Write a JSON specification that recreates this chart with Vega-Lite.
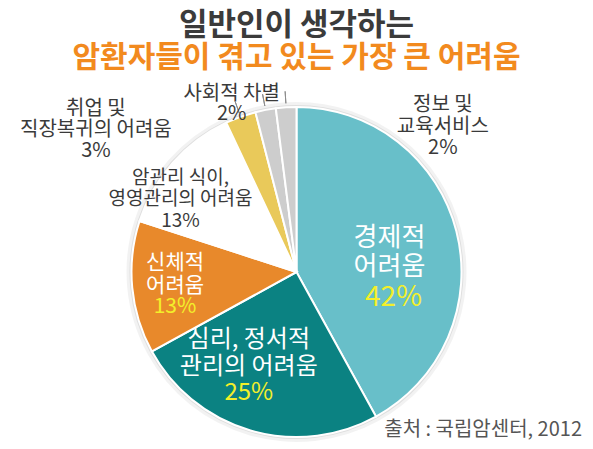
{
  "$schema": "https://vega.github.io/schema/vega-lite/v6.json",
  "width": 593,
  "height": 354,
  "autosize": {"type": "none"},
  "padding": {"top": 95, "left": 0, "right": 0, "bottom": 0},
  "background": "white",
  "config": {
    "view": {"stroke": null},
    "text": {"font": "Noto Sans CJK KR"}
  },
  "title": {
    "text": "일반인이 생각하는",
    "subtitle": "암환자들이 겪고 있는 가장 큰 어려움",
    "anchor": "middle",
    "font": "Noto Sans CJK KR",
    "fontSize": 31,
    "fontWeight": "bold",
    "color": "#3b3b3b",
    "subtitleFont": "Noto Sans CJK KR",
    "subtitleFontSize": 30,
    "subtitleFontWeight": "bold",
    "subtitleColor": "#f28a1e",
    "subtitlePadding": 1,
    "offset": 7
  },
  "layer": [
    {
      "data": {
        "values": [
          {"category": "경제적 어려움", "order": 1, "value": 42, "lines": ["경제적", "어려움"], "pct": "42%"},
          {"category": "심리, 정서적 관리의 어려움", "order": 2, "value": 25, "lines": ["심리, 정서적", "관리의 어려움"], "pct": "25%"},
          {"category": "신체적 어려움", "order": 3, "value": 13, "lines": ["신체적", "어려움"], "pct": "13%"},
          {"category": "암관리 식이, 영영관리의 어려움", "order": 4, "value": 13, "lines": ["암관리 식이,", "영영관리의 어려움"], "pct": "13%"},
          {"category": "취업 및 직장복귀의 어려움", "order": 5, "value": 3, "lines": ["취업 및", "직장복귀의 어려움"], "pct": "3%"},
          {"category": "사회적 차별", "order": 6, "value": 2, "lines": ["사회적 차별"], "pct": "2%"},
          {"category": "정보 및 교육서비스", "order": 7, "value": 2, "lines": ["정보 및", "교육서비스"], "pct": "2%"}
        ]
      },
      "encoding": {
        "theta": {"field": "value", "type": "quantitative", "stack": true},
        "order": {"field": "order", "type": "quantitative"}
      },
      "layer": [
        {"mark": {"type": "arc", "outerRadius": 170, "fill": "#000", "fillOpacity": 0.05}},
        {"mark": {"type": "arc", "outerRadius": 167, "fill": "#000", "fillOpacity": 0.08}},
        {
          "mark": {"type": "arc", "outerRadius": 165, "stroke": "white", "strokeWidth": 2},
          "encoding": {
            "color": {
              "field": "category",
              "type": "nominal",
              "scale": {
                "domain": ["경제적 어려움", "심리, 정서적 관리의 어려움", "신체적 어려움", "암관리 식이, 영영관리의 어려움", "취업 및 직장복귀의 어려움", "사회적 차별", "정보 및 교육서비스"],
                "range": ["#68bfc9", "#0b8282", "#e8892b", "#ffffff", "#e9c95a", "#cdcdcd", "#cdcdcd"]
              },
              "legend": null
            }
          }
        },
        {
          "mark": {"type": "arc", "innerRadius": 169, "outerRadius": 181, "padAngle": 0.6, "fillOpacity": 0, "stroke": "#8c8c8c", "strokeWidth": 1},
          "encoding": {
            "strokeOpacity": {"condition": {"test": "datum.order >= 5", "value": 1}, "value": 0}
          }
        },
        {
          "mark": {"type": "text", "radius": 96, "dx": 0, "dy": -10, "fontSize": 26, "lineHeight": 29, "fill": "white"},
          "encoding": {"text": {"condition": {"test": "datum.order === 1", "field": "lines", "type": "nominal"}, "value": ""}}
        },
        {
          "mark": {"type": "text", "radius": 96, "dx": 4, "dy": 50, "fontSize": 28, "fill": "#f3ef2a"},
          "encoding": {"text": {"condition": {"test": "datum.order === 1", "field": "pct", "type": "nominal"}, "value": ""}}
        },
        {
          "mark": {"type": "text", "radius": 85, "dx": -24, "dy": -14, "fontSize": 24, "lineHeight": 27, "fill": "white"},
          "encoding": {"text": {"condition": {"test": "datum.order === 2", "field": "lines", "type": "nominal"}, "value": ""}}
        },
        {
          "mark": {"type": "text", "radius": 85, "dx": -24, "dy": 39, "fontSize": 24, "fill": "#f3ef2a"},
          "encoding": {"text": {"condition": {"test": "datum.order === 2", "field": "pct", "type": "nominal"}, "value": ""}}
        },
        {
          "mark": {"type": "text", "radius": 122, "dx": 0, "dy": -20, "fontSize": 21, "lineHeight": 23, "fill": "white"},
          "encoding": {"text": {"condition": {"test": "datum.order === 3", "field": "lines", "type": "nominal"}, "value": ""}}
        },
        {
          "mark": {"type": "text", "radius": 122, "dx": 0, "dy": 24, "fontSize": 21, "fill": "#f3ef2a"},
          "encoding": {"text": {"condition": {"test": "datum.order === 3", "field": "pct", "type": "nominal"}, "value": ""}}
        },
        {
          "mark": {"type": "text", "radius": 100, "dx": -41, "dy": -28, "fontSize": 19, "lineHeight": 21, "fill": "#3a3a3a"},
          "encoding": {"text": {"condition": {"test": "datum.order === 4", "field": "lines", "type": "nominal"}, "value": ""}}
        },
        {
          "mark": {"type": "text", "radius": 100, "dx": -41, "dy": 15, "fontSize": 19, "fill": "#3a3a3a"},
          "encoding": {"text": {"condition": {"test": "datum.order === 4", "field": "pct", "type": "nominal"}, "value": ""}}
        },
        {
          "mark": {"type": "text", "radius": 170, "dx": -143, "dy": -3, "fontSize": 20, "lineHeight": 21, "fill": "#3a3a3a"},
          "encoding": {"text": {"condition": {"test": "datum.order === 5", "field": "lines", "type": "nominal"}, "value": ""}}
        },
        {
          "mark": {"type": "text", "radius": 170, "dx": -143, "dy": 39, "fontSize": 20, "fill": "#3a3a3a"},
          "encoding": {"text": {"condition": {"test": "datum.order === 5", "field": "pct", "type": "nominal"}, "value": ""}}
        },
        {
          "mark": {"type": "text", "radius": 170, "dx": -33, "dy": -11, "fontSize": 20, "fill": "#3a3a3a"},
          "encoding": {"text": {"condition": {"test": "datum.order === 6", "field": "lines", "type": "nominal"}, "value": ""}}
        },
        {
          "mark": {"type": "text", "radius": 170, "dx": -33, "dy": 9, "fontSize": 20, "fill": "#3a3a3a"},
          "encoding": {"text": {"condition": {"test": "datum.order === 6", "field": "pct", "type": "nominal"}, "value": ""}}
        },
        {
          "mark": {"type": "text", "radius": 170, "dx": 157, "dy": 3, "fontSize": 20, "lineHeight": 22, "fill": "#3a3a3a"},
          "encoding": {"text": {"condition": {"test": "datum.order === 7", "field": "lines", "type": "nominal"}, "value": ""}}
        },
        {
          "mark": {"type": "text", "radius": 170, "dx": 157, "dy": 46, "fontSize": 20, "fill": "#3a3a3a"},
          "encoding": {"text": {"condition": {"test": "datum.order === 7", "field": "pct", "type": "nominal"}, "value": ""}}
        }
      ]
    },
    {
      "data": {"values": [{"note": "출처 : 국립암센터, 2012"}]},
      "mark": {"type": "text", "x": {"expr": "width - 11"}, "y": {"expr": "height - 19"}, "align": "right", "fontSize": 20, "fill": "#555555"},
      "encoding": {"text": {"field": "note", "type": "nominal"}}
    }
  ]
}
